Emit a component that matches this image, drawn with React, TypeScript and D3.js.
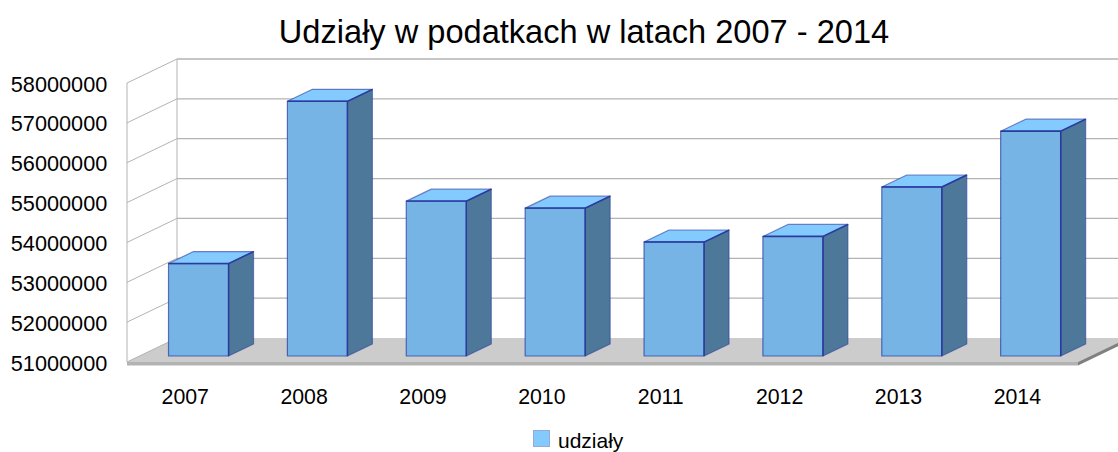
import React from "react";
import * as d3 from "d3";

const title = "Udziały w podatkach w latach 2007 - 2014";
const years = ["2007", "2008", "2009", "2010", "2011", "2012", "2013", "2014"];
const udzialy = [53320000, 57390000, 54885000, 54710000, 53860000, 54000000, 55240000, 56640000];
const yTicks = [51000000, 52000000, 53000000, 54000000, 55000000, 56000000, 57000000, 58000000];
const legendLabel = "udziały";

const W = 1118, H = 452;
const font = "'Liberation Sans', Arial, sans-serif";
const DX = 50, DY = -24;

export default function App() {
  const x = d3.scaleBand<string>().domain(years).range([127, 1078]).paddingInner(0).paddingOuter(0);
  const y = d3.scaleLinear().domain([51000000, 58000000]).range([362, 83]);
  // projection of (screen x, screen y, depth 0..1)
  const px = (sx: number, z: number) => sx + DX * z;
  const py = (sy: number, z: number) => sy + DY * z;
  const pts = (a: [number, number, number][]) => a.map(([sx, sy, z]) => `${px(sx, z)},${py(sy, z)}`).join(" ");
  const barW = x.bandwidth() * 0.505;
  const z0 = 0.25, z1 = 0.75;
  const left = 127, right = 1078;
  const yBase = y(51000000), yTop = y(58000000);
  const stroke = "#2a3a9f";

  return (
    <svg width={W} height={H} style={{ position: "absolute", left: 0, top: 0, background: "#fff" }}>
      <text x={584} y={43} textAnchor="middle" fontFamily={font} fontSize={32.6} fill="#000">{title}</text>

      {/* floor */}
      <polygon points={pts([[left, yBase, 0], [right, yBase, 0], [right, yBase, 1], [left, yBase, 1]])} fill="#cccccc" />
      <rect x={left} y={yBase} width={right - left} height={3.5} fill="#b3b3b3" />
      <polygon points={pts([[right, yBase, 0], [right, yBase, 1], [right, yBase + 3.5, 1], [right, yBase + 3.5, 0]])} fill="#808080" />

      {/* walls and gridlines */}
      {yTicks.map((t) => (
        <g key={t}>
          {t !== yTicks[0] && <line x1={px(left, 1)} x2={px(right, 1)} y1={py(y(t), 1)} y2={py(y(t), 1)} stroke="#b3b3b3" strokeWidth={1.3} />}
          <line x1={left} x2={px(left, 1)} y1={y(t)} y2={py(y(t), 1)} stroke="#b3b3b3" strokeWidth={1} />
        </g>
      ))}
      <line x1={left} x2={left} y1={yTop} y2={yBase} stroke="#b3b3b3" strokeWidth={1} />
      <line x1={px(left, 1)} x2={px(left, 1)} y1={py(yTop, 1)} y2={py(yBase, 1)} stroke="#b3b3b3" strokeWidth={1} />

      {/* bars */}
      {years.map((yr, i) => {
        const sx0 = x(yr)! + (x.bandwidth() - barW) / 2 - 0.4;
        const sx1 = sx0 + barW;
        const top = y(udzialy[i]);
        return (
          <g key={yr} stroke={stroke} strokeWidth={1.2} strokeLinejoin="round">
            <polygon points={pts([[sx1, yBase, z0], [sx1, yBase, z1], [sx1, top, z1], [sx1, top, z0]])} fill="#4e7899" strokeOpacity={0.55} />
            <polygon points={pts([[sx0, top, z0], [sx1, top, z0], [sx1, top, z1], [sx0, top, z1]])} fill="#83caff" strokeOpacity={0.6} />
            <polygon points={pts([[sx0, yBase, z0], [sx1, yBase, z0], [sx1, top, z0], [sx0, top, z0]])} fill="#76b4e5" strokeOpacity={0.7} />
            <polyline points={pts([[sx0, top, z0], [sx1, top, z0], [sx1, yBase, z0]])} fill="none" strokeWidth={1.4} />
            <line x1={px(sx1, z0)} y1={py(top, z0)} x2={px(sx1, z1)} y2={py(top, z1)} strokeWidth={1.4} />
          </g>
        );
      })}

      {/* axis labels */}
      {yTicks.map((t) => (
        <text key={t} x={107.3} y={y(t) + 8.6} textAnchor="end" fontFamily={font} fontSize={21.7} fill="#000">{t}</text>
      ))}
      {years.map((yr) => (
        <text key={yr} x={x(yr)! + x.bandwidth() / 2 - 1.2} y={404} textAnchor="middle" fontFamily={font} fontSize={21.3} fill="#000">{yr}</text>
      ))}

      {/* legend */}
      <rect x={533.5} y={430.5} width={16} height={16} fill="#83caff" stroke="#9aa8d8" strokeWidth={1} />
      <text x={558} y={448} fontFamily={font} fontSize={21} fill="#000">{legendLabel}</text>
    </svg>
  );
}
